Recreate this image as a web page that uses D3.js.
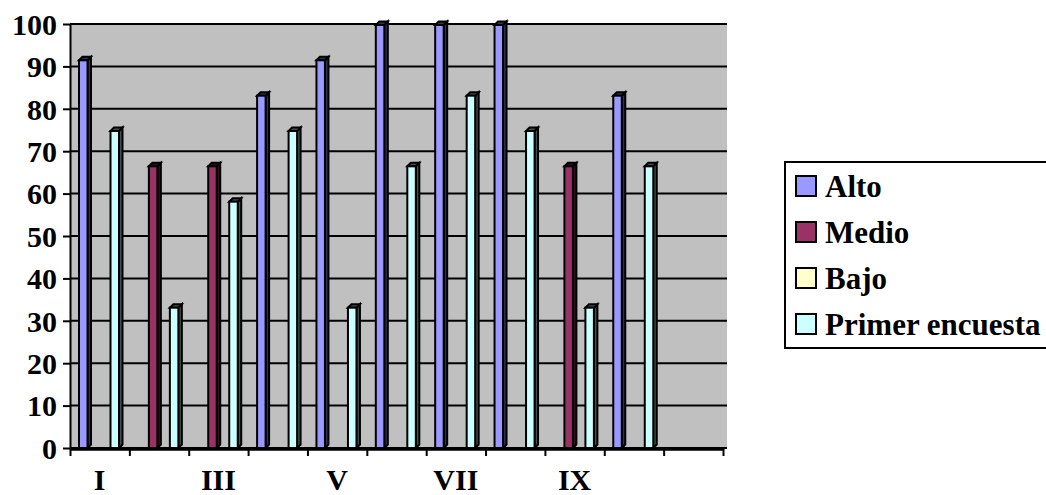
<!DOCTYPE html>
<html>
<head>
<meta charset="utf-8">
<script src="https://cdn.jsdelivr.net/npm/d3@7"></script>
<style>
  body { margin: 0; background: #fff; }
  svg text { font-family: "Liberation Serif", "Tinos", "DejaVu Serif", "Times New Roman", serif !important; font-weight: bold; }
</style>
</head>
<body>
<div id="chart"></div>
<script>
// categories (the 11th slot has no label in the original)
const categories = ["I", "II", "III", "IV", "V", "VI", "VII", "VIII", "IX", "X", ""];
const shownLabels = ["I", "III", "V", "VII", "IX"];
const seriesNames = ["Alto", "Medio", "Bajo", "Primer encuesta"];

const alto   = [91.67, 0, 0, 83.33, 91.67, 100, 100, 100, 0, 83.33, 0];
const medio  = [0, 66.67, 66.67, 0, 0, 0, 0, 0, 66.67, 0, 0];
const bajo   = [0, 0, 0, 0, 0, 0, 0, 0, 0, 0, 0];
const primer = [75, 33.33, 58.33, 75, 33.33, 66.67, 83.33, 75, 33.33, 66.67, 0];

const yTicks = [0, 10, 20, 30, 40, 50, 60, 70, 80, 90, 100];

const colorMap = {
  "Alto": "#9999FF",
  "Medio": "#993366",
  "Bajo": "#FFFFCC",
  "Primer encuesta": "#CCFFFF"
};

const width = 1046, height = 495;
const margin = {top: 24, right: 323, bottom: 47, left: 70};
const depth = 3.5;
const serif = "'Liberation Serif', Tinos, 'DejaVu Serif', 'Times New Roman', serif";

const svg = d3.select("#chart").append("svg")
    .attr("width", width)
    .attr("height", height)
    .attr("viewBox", [0, 0, width, height]);

const x = d3.scaleBand()
    .domain(categories.map((c, i) => i))
    .range([margin.left, width - margin.right])
    .paddingInner(0).paddingOuter(0);

const xs = d3.scaleBand()
    .domain(seriesNames)
    .range([9, 51]);

const y = d3.scaleLinear()
    .domain([0, 100])
    .range([height - margin.bottom, margin.top]);

const color = d3.scaleOrdinal()
    .domain(Object.keys(colorMap))
    .range(Object.values(colorMap));

// back wall
svg.append("rect")
    .attr("x", margin.left)
    .attr("y", y(100))
    .attr("width", x.range()[1] - margin.left + 4)
    .attr("height", y(0) - y(100))
    .attr("fill", "#C0C0C0");

// gridlines
svg.append("g")
  .selectAll("line")
  .data(yTicks)
  .join("line")
    .attr("x1", margin.left)
    .attr("x2", x.range()[1] + 4)
    .attr("y1", d => y(d))
    .attr("y2", d => y(d))
    .attr("stroke", "#000")
    .attr("stroke-width", 2);

// y axis
const yAxis = svg.append("g")
    .attr("transform", `translate(${margin.left},0)`)
    .call(d3.axisLeft(y).tickValues(yTicks).tickSize(7).tickSizeOuter(0).tickPadding(6));
yAxis.attr("font-family", null).attr("font-size", null);
yAxis.select(".domain").attr("stroke-width", 2);
yAxis.selectAll(".tick line").attr("stroke-width", 2);
yAxis.selectAll(".tick text")
    .style("font-family", serif)
    .style("font-size", "30px")
    .style("font-weight", "bold")
    .attr("fill", "#000")
    .attr("dy", "0.34em");

// bars
const rows = [];
const vals = {"Alto": alto, "Medio": medio, "Bajo": bajo, "Primer encuesta": primer};
categories.forEach((c, i) => {
  seriesNames.forEach(s => {
    if (vals[s][i] > 0) rows.push({i, s, v: vals[s][i]});
  });
});

const faceW = 8.5;
const bars = svg.append("g").selectAll("g").data(rows).join("g");

bars.each(function(d) {
  const g = d3.select(this);
  const x0 = x(d.i) + xs(d.s);
  const yTop = y(d.v) + 1;
  const yBot = y(0);
  const c = d3.color(color(d.s));
  const dark = c.darker(3.2).formatHex();
  // side face
  g.append("path")
    .attr("d", `M${x0 + faceW},${yBot} L${x0 + faceW},${yTop} L${x0 + faceW + depth},${yTop - depth} L${x0 + faceW + depth},${yBot - depth} Z`)
    .attr("fill", dark).attr("stroke", "#000").attr("stroke-width", 2);
  // top face
  g.append("path")
    .attr("d", `M${x0},${yTop} L${x0 + depth},${yTop - depth} L${x0 + faceW + depth},${yTop - depth} L${x0 + faceW},${yTop} Z`)
    .attr("fill", dark).attr("stroke", "#000").attr("stroke-width", 2);
  // front face
  g.append("rect")
    .attr("x", x0).attr("y", yTop)
    .attr("width", faceW).attr("height", yBot - yTop)
    .attr("fill", c.formatHex()).attr("stroke", "#000").attr("stroke-width", 2);
});

// x axis
const xLin = d3.scaleLinear().domain([0, categories.length]).range(x.range());
const xAxis = svg.append("g")
    .attr("transform", `translate(0,${y(0) + 1})`)
    .call(d3.axisBottom(xLin).tickValues(d3.range(categories.length + 1))
      .tickSize(7).tickSizeOuter(0).tickFormat(""));
xAxis.select(".domain").attr("stroke-width", 2.5);
xAxis.selectAll(".tick line").attr("stroke-width", 2);

svg.append("g")
  .selectAll("text")
  .data(categories.map((c, i) => ({c, i})).filter(d => shownLabels.includes(d.c)))
  .join("text")
    .attr("x", d => x(d.i) + x.bandwidth() / 2)
    .attr("y", 490)
    .attr("text-anchor", "middle")
    .style("font-family", serif)
    .style("font-size", "30px")
    .text(d => d.c);

// legend
const legend = svg.append("g");
legend.append("rect")
    .attr("x", 785).attr("y", 162)
    .attr("width", 300).attr("height", 186)
    .attr("fill", "#fff").attr("stroke", "#000").attr("stroke-width", 2);

const li = legend.selectAll("g.item")
  .data(seriesNames)
  .join("g")
    .attr("class", "item")
    .attr("transform", (d, i) => `translate(796,${176 + i * 46})`);

li.append("rect")
    .attr("width", 20).attr("height", 20)
    .attr("fill", d => color(d))
    .attr("stroke", "#000").attr("stroke-width", 2);

li.append("text")
    .attr("x", 29)
    .attr("y", 21)
    .style("font-family", serif)
    .style("font-size", "31px")
    .text(d => d);
</script>
</body>
</html>
